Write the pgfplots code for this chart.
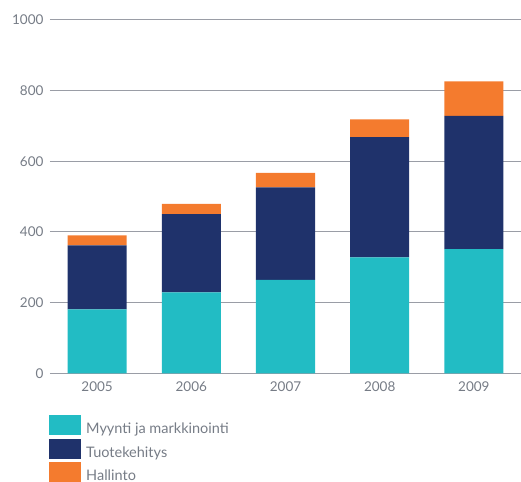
\documentclass[border=0pt]{standalone}
\usepackage{fontspec}
\setmainfont{Lato}
\usepackage{pgfplots}
\pgfplotsset{compat=1.18}
\definecolor{tealbar}{HTML}{22BCC4}
\definecolor{navybar}{HTML}{1F326B}
\definecolor{orangebar}{HTML}{F47B2E}
\definecolor{gridgray}{HTML}{9A9DA6}
\definecolor{textgray}{HTML}{767C86}

\begin{document}
\begin{tikzpicture}
\useasboundingbox (-50pt,-107.7pt) rectangle (471pt,373.3pt);
\begin{axis}[
  scale only axis, width=471pt, height=353.5pt,
  ybar stacked, bar width=59pt,
  xmin=-0.5, xmax=4.5, ymin=0, ymax=1000,
  xtick={0,1,2,3,4}, xticklabels={2005,2006,2007,2008,2009},
  ytick={0,200,400,600,800,1000},
  axis line style={draw=none},
  ymajorgrids, grid style={gridgray, line width=1pt},
  major tick length=0pt,
  tick label style={font=\fontsize{13.5}{16}\selectfont, text=textgray,
    /pgf/number format/assume math mode=true},
  yticklabel style={xshift=-3pt},
  xticklabel style={yshift=-5pt},
  /pgf/number format/1000 sep={},
  legend style={at={(rel axis cs:0,0)}, anchor=north west,
    xshift=-1pt, yshift=-41.7pt, draw=none, fill=none, inner sep=0pt,
    row sep=3.3pt, column sep=5pt,
    nodes={inner sep=0pt, text=textgray, font=\fontsize{14.5}{16}\selectfont}},
  legend cell align=left,
  legend image code/.code={\fill[#1] (0pt,-6pt) rectangle (32pt,14pt);},
]
\addplot[fill=tealbar, draw=none] coordinates {(0,181) (1,229) (2,264) (3,328) (4,351)};
\addlegendentry{Myynti ja markkinointi}
\addplot[fill=navybar, draw=none] coordinates {(0,181) (1,221) (2,262) (3,340) (4,377)};
\addlegendentry{Tuotekehitys}
\addplot[fill=orangebar, draw=none] coordinates {(0,28) (1,29) (2,41) (3,50) (4,98)};
\addlegendentry{Hallinto}
\end{axis}
\end{tikzpicture}
\end{document}
